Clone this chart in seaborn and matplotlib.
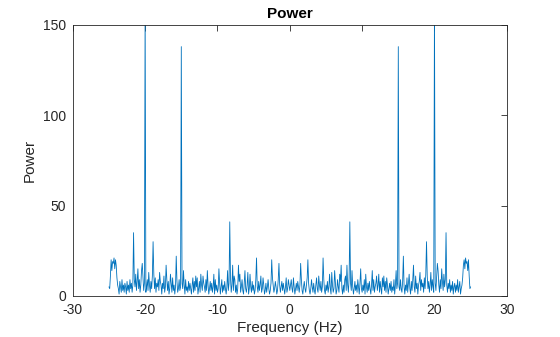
import numpy as np
import pandas as pd
import matplotlib
matplotlib.use("Agg")
import matplotlib.pyplot as plt
import seaborn as sns

# One-sided power values for 0.0 .. 25.0 Hz in 0.1 Hz steps; the
# spectrum of a real signal is symmetric, so the negative side mirrors it.
freq_step = 0.1
power_pos = [
    3, 6, 9, 4, 2, 10, 5, 1, 4, 7,
    3, 8, 5, 2, 6, 18, 9, 3, 1, 5,
    8, 4, 2, 6, 10, 20, 7, 3, 1, 4,
    9, 5, 2, 7, 3, 1, 6, 10, 4, 2,
    11, 6, 3, 8, 2, 5, 21, 9, 3, 1,
    6, 3, 8, 2, 5, 12, 4, 1, 13, 6,
    2, 4, 14, 7, 1, 3, 9, 5, 2, 12,
    8, 17, 4, 1, 6, 2, 9, 11, 3, 17,
    6, 2, 10, 41, 7, 3, 14, 5, 1, 4,
    8, 3, 6, 2, 9, 5, 1, 7, 15, 4,
    2, 6, 3, 9, 1, 12, 5, 2, 7, 3,
    8, 4, 1, 6, 14, 3, 9, 2, 5, 7,
    11, 3, 6, 12, 2, 8, 4, 1, 10, 5,
    11, 3, 8, 2, 10, 6, 1, 4, 7, 3,
    8, 2, 5, 3, 9, 1, 6, 14, 4, 7,
    138, 5, 3, 9, 4, 2, 8, 22, 5, 1,
    6, 3, 10, 2, 7, 12, 4, 1, 8, 3,
    9, 17, 5, 2, 11, 4, 7, 1, 6, 8,
    13, 3, 9, 5, 7, 2, 10, 4, 12, 30,
    11, 4, 8, 2, 6, 13, 3, 9, 5, 2,
    162, 7, 3, 11, 18, 14, 6, 2, 9, 4,
    15, 8, 3, 12, 5, 9, 35, 6, 2, 7,
    4, 9, 2, 6, 3, 8, 1, 5, 7, 2,
    6, 3, 9, 2, 5, 8, 1, 4, 6, 10,
    17, 20, 15, 21, 18, 19, 14, 20, 11, 4,
    5,
]

x_ticks = [-30, -20, -10, 0, 10, 20, 30]
y_ticks = [0, 50, 100, 150]

n_pos = len(power_pos)
freq_pos = np.arange(n_pos) * freq_step
freq = np.concatenate([-freq_pos[:0:-1], freq_pos])
power = np.concatenate([power_pos[:0:-1], power_pos])
df = pd.DataFrame({"Frequency (Hz)": freq, "Power": power})

sns.set_style("white")
plt.rcParams["font.family"] = ["Liberation Sans", "DejaVu Sans"]
plt.rcParams["axes.unicode_minus"] = False

fig = plt.figure(figsize=(5.6, 3.37), dpi=100)
ax = fig.add_axes([0.130, 0.122, 0.775, 0.804])

sns.lineplot(data=df, x="Frequency (Hz)", y="Power", ax=ax,
             color="#0072BD", linewidth=0.6, estimator=None, sort=False)

ax.set_xlim(-30, 30)
ax.set_ylim(0, 150)
ax.set_xticks(x_ticks)
ax.set_yticks(y_ticks)
ax.tick_params(direction="in", length=4, width=0.6, colors="#262626",
               labelsize=10, top=True, right=True, pad=5)
for side in ax.spines.values():
    side.set_visible(True)
    side.set_color("#262626")
    side.set_linewidth(0.6)

ax.set_xlabel("Frequency (Hz)", fontsize=11, color="#262626", labelpad=3)
ax.set_ylabel("Power", fontsize=11, color="#262626", labelpad=4)
ax.set_title("Power", fontsize=11, fontweight="bold", color="black", pad=5)

fig.savefig("out.png", dpi=100)
